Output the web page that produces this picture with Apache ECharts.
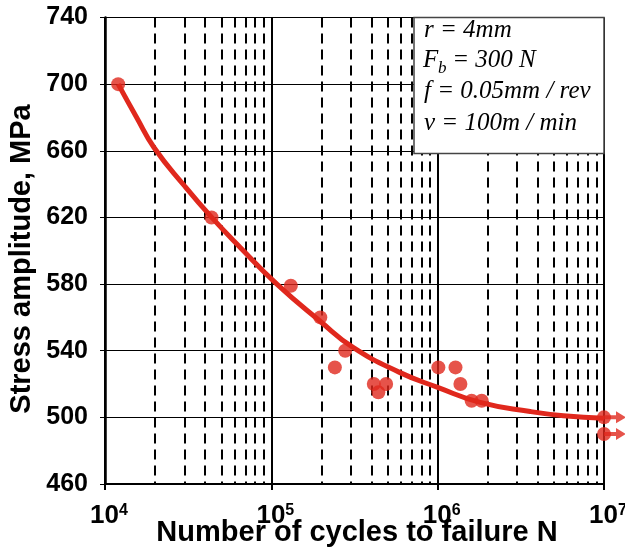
<!DOCTYPE html>
<html>
<head>
<meta charset="utf-8">
<script src="https://cdn.jsdelivr.net/npm/echarts@6/dist/echarts.min.js"></script>
<style>
  html, body { margin: 0; padding: 0; background: #fff; }
  #chart { width: 625px; height: 551px; }
</style>
</head>
<body>
<div id="chart"></div>
<script>
// Fatigue test results: cycles to failure and stress amplitude (MPa)
const testCycles = [1.2e4, 4.37e4, 1.31e5, 1.97e5, 2.78e5, 2.41e5, 4.13e5, 4.9e5, 4.4e5, 1.01e6, 1.28e6, 1.37e6, 1.6e6, 1.84e6];
const testStress = [700, 620, 579, 560, 540, 530, 520, 520, 515, 530, 530, 520, 510, 510];

// Run-out specimens (no failure at 10^7 cycles)
const runoutCycles = [1e7, 1e7];
const runoutStress = [500, 490];

// Fitted S-N curve
const fitCycles = [1.2e4, 1.55e4, 1.97e4, 3e4, 4.38e4, 6.5e4, 1.08e5, 1.95e5, 3.1e5, 5.9e5, 1.0e6, 1.8e6, 3.6e6, 5.7e6, 1.0e7];
const fitStress = [700, 680, 662, 639, 620, 602, 580, 558, 542, 527, 518, 509, 503.5, 501, 499.5];

// Axis ranges
const cycleRange = [1e4, 1e7];
const stressRange = [460, 740];
const stressStep = 40;

// Test conditions
const conditions = {
  radius: 'r = 4mm',
  force: ['F', 'b', ' = 300 N'],
  feed: 'f = 0.05mm / rev',
  speed: 'v = 100m / min'
};

const yName = 'Stress amplitude, MPa';
const xName = 'Number of cycles to failure N';

const RED = '#e0281d';
const zip = (xs, ys) => xs.map((x, i) => [x, ys[i]]);

const chart = echarts.init(document.getElementById('chart'), null, { renderer: 'canvas' });

const serifItalic = { fontFamily: 'Liberation Serif', fontStyle: 'italic', fontSize: 25, fill: '#000' };

chart.setOption({
  animation: false,
  backgroundColor: '#fff',
  grid: { left: 105, right: 21, top: 17.5, bottom: 67, containLabel: false, outerBoundsMode: 'none' },
  xAxis: {
    type: 'log',
    logBase: 10,
    min: cycleRange[0],
    max: cycleRange[1],
    axisLine: { show: true, onZero: false, lineStyle: { color: '#000', width: 2 } },
    axisTick: { show: true, length: 6, lineStyle: { color: '#000', width: 2 } },
    axisLabel: {
      margin: 19,
      color: '#000',
      formatter: v => '{b|10}{s|' + Math.round(Math.log10(v)) + '}',
      rich: {
        b: { fontFamily: 'Liberation Sans', fontWeight: 'bold', fontSize: 26, color: '#000', padding: [0, 0, 0, 8] },
        s: { fontFamily: 'Liberation Sans', fontWeight: 'bold', fontSize: 16, color: '#000', verticalAlign: 'top' }
      }
    },
    splitLine: { show: true, lineStyle: { color: '#000', width: 2 } },
    minorTick: { show: false, splitNumber: 9 },
    minorSplitLine: { show: true, lineStyle: { color: '#000', width: 2, type: [10, 6] } }
  },
  yAxis: {
    type: 'value',
    min: stressRange[0],
    max: stressRange[1],
    interval: stressStep,
    axisLine: { show: true, lineStyle: { color: '#000', width: 2.5 } },
    axisTick: { show: true, length: 5, lineStyle: { color: '#000', width: 1 } },
    axisLabel: { margin: 17, color: '#000', fontSize: 25, fontWeight: 'bold', fontFamily: 'Liberation Sans' },
    splitLine: { show: true, lineStyle: { color: '#000', width: 1.2 } }
  },
  series: [
    {
      type: 'line',
      data: zip(fitCycles, fitStress),
      smooth: 0.5,
      showSymbol: false,
      lineStyle: { color: RED, width: 5 },
      z: 3,
      silent: true
    },
    {
      type: 'scatter',
      data: zip(testCycles, testStress),
      symbol: 'circle',
      symbolSize: 14,
      itemStyle: { color: RED },
      z: 4
    },
    {
      type: 'scatter',
      data: zip(runoutCycles, runoutStress),
      symbol: 'path://M0,4L12,4L12,0L22,6L12,12L12,8L0,8Z',
      symbolSize: [22, 12],
      symbolOffset: [11, 0],
      itemStyle: { color: RED },
      clip: false,
      z: 4
    },
    {
      type: 'scatter',
      data: zip(runoutCycles, runoutStress),
      symbol: 'circle',
      symbolSize: 14,
      itemStyle: { color: RED },
      clip: false,
      z: 5
    }
  ],
  graphic: [
    {
      type: 'rect',
      z: 100,
      shape: { x: 414, y: 17.5, width: 190, height: 136 },
      style: { fill: '#fff', stroke: '#444', lineWidth: 1.5 }
    },
    { type: 'text', z: 101, x: 424, y: 30, style: Object.assign({ text: conditions.radius, verticalAlign: 'middle' }, serifItalic) },
    { type: 'text', z: 101, x: 423, y: 60, style: Object.assign({ text: conditions.force[0], verticalAlign: 'middle' }, serifItalic) },
    { type: 'text', z: 101, x: 438, y: 69, style: Object.assign({}, serifItalic, { text: conditions.force[1], fontSize: 17, verticalAlign: 'middle' }) },
    { type: 'text', z: 101, x: 446, y: 60, style: Object.assign({ text: conditions.force[2], verticalAlign: 'middle' }, serifItalic) },
    { type: 'text', z: 101, x: 424, y: 91, style: Object.assign({ text: conditions.feed, verticalAlign: 'middle' }, serifItalic) },
    { type: 'text', z: 101, x: 424, y: 123, style: Object.assign({ text: conditions.speed, verticalAlign: 'middle' }, serifItalic) },
    {
      type: 'text', z: 101, x: 21.5, y: 259, rotation: Math.PI / 2,
      style: { text: yName, fontFamily: 'Liberation Sans', fontWeight: 'bold', fontSize: 29, fill: '#000', align: 'center', verticalAlign: 'middle' }
    },
    {
      type: 'text', z: 101, x: 357, y: 533,
      style: { text: xName, fontFamily: 'Liberation Sans', fontWeight: 'bold', fontSize: 29, fill: '#000', align: 'center', verticalAlign: 'middle' }
    }
  ]
});
</script>
</body>
</html>
